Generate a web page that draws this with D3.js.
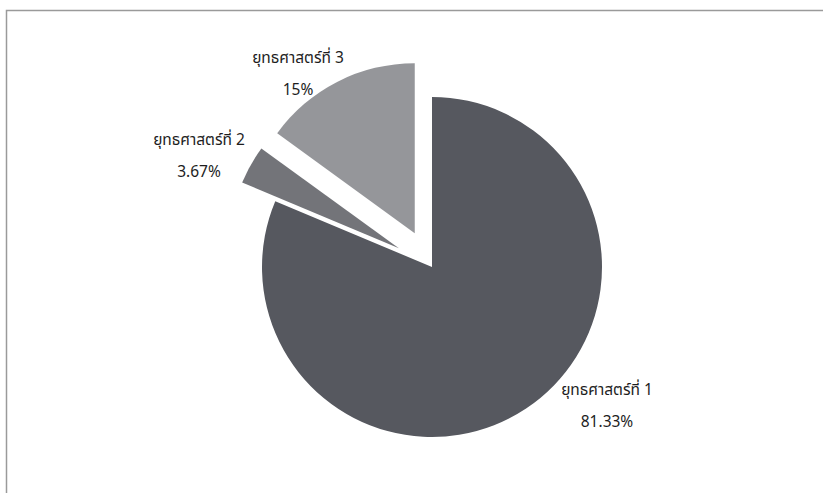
<!DOCTYPE html>
<html><head><meta charset="utf-8">
<script src="https://cdn.jsdelivr.net/npm/d3@7"></script>
<style>html,body{margin:0;padding:0;background:#fff;}svg{display:block;}</style>
</head><body>
<svg id="c" width="823" height="493"></svg>
<script>
const categories = ["ยุทธศาสตร์ที่ 1", "ยุทธศาสตร์ที่ 2", "ยุทธศาสตร์ที่ 3"];
const values = [81.33, 3.67, 15];
const valueLabels = ["81.33%", "3.67%", "15%"];
const colors = ["#56585f", "#737479", "#95969a"];
const exploded = [0, 38, 38];

const svg = d3.select("#c");
svg.append("rect").attr("x", 6.5).attr("y", 10.5).attr("width", 830).attr("height", 500)
  .attr("fill", "#fff").attr("stroke", "#9a9a9a").attr("stroke-width", 1.5);

const cx = 432, cy = 267, r = 170;
const pie = d3.pie().sort(null).value(d => d)(values);
const arc = d3.arc().innerRadius(0).outerRadius(r);
const g = svg.append("g").attr("transform", `translate(${cx},${cy})`);

pie.forEach((p, i) => {
  const mid = (p.startAngle + p.endAngle) / 2;
  const dx = Math.sin(mid) * exploded[i], dy = -Math.cos(mid) * exploded[i];
  g.append("path").attr("d", arc(p)).attr("fill", colors[i])
    .attr("transform", `translate(${dx},${dy})`);
});

const labelPos = [[607, 395], [199, 145], [298, 63]];
const font = "Tahoma, 'Noto Sans Thai', 'Loma', 'Garuda', 'DejaVu Sans', sans-serif";
categories.forEach((c, i) => {
  svg.append("text").attr("x", labelPos[i][0]).attr("y", labelPos[i][1])
    .attr("text-anchor", "middle").attr("font-family", font).attr("font-size", 15.5)
    .attr("fill", "#1e1e1e").text(c);
  svg.append("text").attr("x", labelPos[i][0]).attr("y", labelPos[i][1] + 32)
    .attr("text-anchor", "middle").attr("font-family", font).attr("font-size", 15.5)
    .attr("fill", "#1e1e1e").text(valueLabels[i]);
});
</script>
</body></html>
